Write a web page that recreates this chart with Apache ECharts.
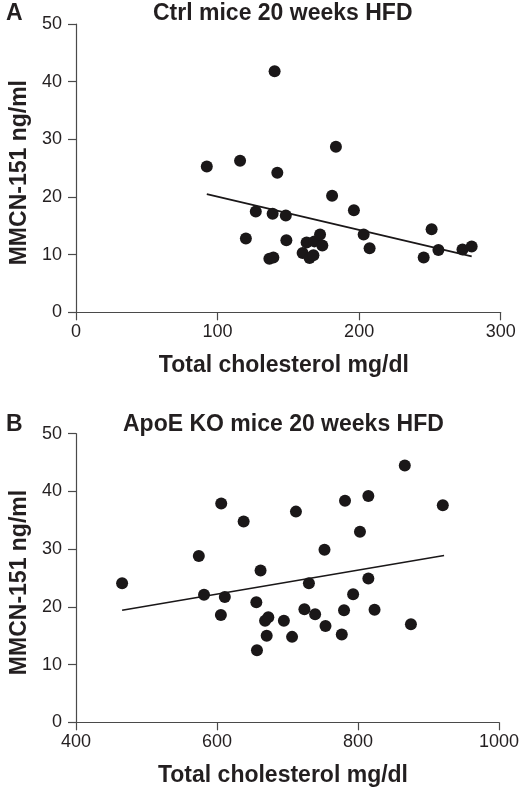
<!DOCTYPE html>
<html>
<head>
<meta charset="utf-8">
<script src="https://cdn.jsdelivr.net/npm/echarts@6/dist/echarts.min.js"></script>
<style>
html,body{margin:0;padding:0;background:#fff;}
#chart{width:522px;height:790px;}
</style>
</head>
<body>
<div id="chart"></div>
<script>
// Panel A: Ctrl mice 20 weeks HFD
const ctrlCholesterol = [92.4, 115.9, 140.3, 142.2, 183.6, 180.9, 196.3, 127.0, 138.9, 148.2, 120.0, 148.6, 136.6, 139.4, 160.1, 162.9, 165.0, 167.7, 168.4, 172.4, 174.0, 203.2, 207.4, 245.6, 251.2, 256.0, 273.0, 279.5];
const ctrlMMCN = [25.3, 26.3, 41.8, 24.2, 28.7, 20.2, 17.7, 17.5, 17.1, 16.8, 12.8, 12.5, 9.3, 9.5, 10.3, 12.1, 9.4, 9.9, 12.3, 13.5, 11.6, 13.5, 11.1, 9.5, 14.4, 10.8, 10.9, 11.4];
const ctrlTrendX = [92.4, 279.5];
const ctrlTrendY = [20.5, 9.7];

// Panel B: ApoE KO mice 20 weeks HFD
const apoeCholesterol = [465.4, 574.2, 581.6, 606.0, 605.5, 611.1, 637.8, 655.8, 661.8, 656.7, 668.2, 672.8, 670.5, 694.9, 706.5, 712.0, 724.0, 730.4, 739.2, 752.5, 753.9, 777.0, 780.2, 781.6, 793.1, 802.8, 814.7, 814.7, 823.5, 866.4, 875.1, 920.3];
const apoeMMCN = [24.1, 28.8, 22.1, 37.9, 18.6, 21.7, 34.8, 20.8, 26.3, 12.5, 17.6, 18.2, 15.0, 17.6, 14.8, 36.5, 19.6, 24.1, 18.7, 29.9, 16.7, 15.2, 19.4, 38.4, 22.2, 33.0, 39.2, 24.9, 19.5, 44.5, 17.0, 37.6];
const apoeTrendX = [465.4, 922.1];
const apoeTrendY = [19.4, 28.9];

const panelLetters = ['A', 'B'];
const panelTitles = ['Ctrl mice 20 weeks HFD', 'ApoE KO mice 20 weeks HFD'];
const xAxisName = 'Total cholesterol mg/dl';
const yAxisName = 'MMCN-151 ng/ml';
const xRanges = [[0, 300, 100], [400, 1000, 200]];
const yRange = [0, 50, 10];

const FONT = '"Liberation Sans", Arial, Helvetica, sans-serif';
const INK = '#231f20';
const AXIS = '#4a4a4a';
const DOT = '#1a1718';

function zip(a, b) { return a.map((v, i) => [v, b[i]]); }

const grids = [
  { left: 66.7, top: 24, width: 434, height: 288.3 },
  { left: 66.7, top: 433.7, width: 434, height: 288.6 }
];

function xAxisCfg(i) {
  return {
    gridIndex: i, type: 'value',
    min: xRanges[i][0], max: xRanges[i][1], interval: xRanges[i][2],
    name: xAxisName, nameLocation: 'middle', nameGap: 42,
    nameTextStyle: { fontFamily: FONT, fontSize: 23, fontWeight: 'bold', color: INK, padding: [0, 9, 0, 0] },
    axisLine: { show: true, onZero: false, lineStyle: { color: AXIS, width: 1.2 } },
    axisTick: { show: true, length: 8, lineStyle: { color: AXIS, width: 1.2 } },
    axisLabel: { fontFamily: FONT, fontSize: 18, color: INK, margin: 11, formatter: v => String(v) },
    splitLine: { show: false }
  };
}
function yAxisCfg(i) {
  return {
    gridIndex: i, type: 'value',
    min: yRange[0], max: yRange[1], interval: yRange[2],
    name: yAxisName, nameLocation: 'middle', nameGap: 45, nameRotate: 90,
    nameTextStyle: { fontFamily: FONT, fontSize: 23, fontWeight: 'bold', color: INK, padding: [0, 9, 0, 0] },
    axisLine: { show: true, lineStyle: { color: AXIS, width: 1.2 } },
    axisTick: { show: true, length: 8, lineStyle: { color: AXIS, width: 1.2 } },
    axisLabel: { fontFamily: FONT, fontSize: 18, color: INK, margin: 14, formatter: v => String(v) },
    splitLine: { show: false }
  };
}

const titleStyle = { fontFamily: FONT, fontSize: 23, fontWeight: 'bold', color: INK };

const option = {
  animation: false,
  backgroundColor: '#fff',
  title: [
    { text: panelLetters[0], left: 1, top: -3, textStyle: titleStyle },
    { text: panelTitles[0], left: 148, top: -3, textStyle: titleStyle },
    { text: panelLetters[1], left: 1, top: 408.5, textStyle: titleStyle },
    { text: panelTitles[1], left: 118, top: 408.5, textStyle: titleStyle }
  ],
  grid: grids,
  xAxis: [xAxisCfg(0), xAxisCfg(1)],
  yAxis: [yAxisCfg(0), yAxisCfg(1)],
  series: [
    { type: 'scatter', xAxisIndex: 0, yAxisIndex: 0, data: zip(ctrlCholesterol, ctrlMMCN),
      symbol: 'circle', symbolSize: 12, itemStyle: { color: DOT, opacity: 1 }, z: 3 },
    { type: 'line', xAxisIndex: 0, yAxisIndex: 0, data: zip(ctrlTrendX, ctrlTrendY),
      symbol: 'none', lineStyle: { color: DOT, width: 1.6 }, z: 2 },
    { type: 'scatter', xAxisIndex: 1, yAxisIndex: 1, data: zip(apoeCholesterol, apoeMMCN),
      symbol: 'circle', symbolSize: 12, itemStyle: { color: DOT, opacity: 1 }, z: 3 },
    { type: 'line', xAxisIndex: 1, yAxisIndex: 1, data: zip(apoeTrendX, apoeTrendY),
      symbol: 'none', lineStyle: { color: DOT, width: 1.6 }, z: 2 }
  ]
};

const chart = echarts.init(document.getElementById('chart'), null, { renderer: 'canvas' });
chart.setOption(option);
</script>
</body>
</html>
